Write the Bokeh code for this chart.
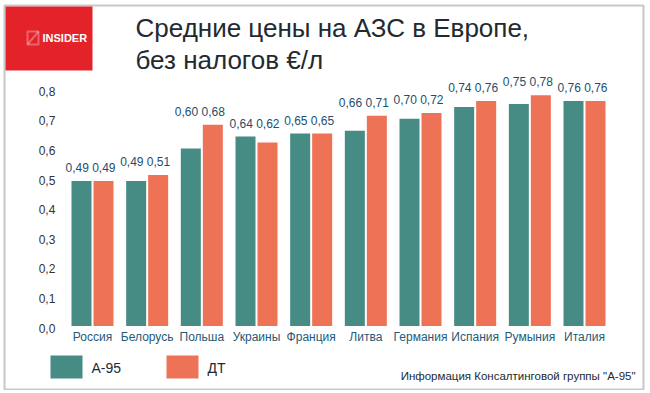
import numpy as np
from bokeh.plotting import figure
from bokeh.models import Range1d, Label, BoxAnnotation, PolyAnnotation, ColumnDataSource
from bokeh.transform import dodge
from bokeh.core.properties import value
from bokeh.embed import file_html
from bokeh.resources import INLINE

# ---- data ----
countries = ["Россия", "Белорусь", "Польша", "Украины", "Франция",
             "Литва", "Германия", "Испания", "Румыния", "Италия"]
a95 = [0.49, 0.49, 0.60, 0.64, 0.65, 0.66, 0.70, 0.74, 0.75, 0.76]
dt = [0.49, 0.51, 0.68, 0.62, 0.65, 0.71, 0.72, 0.76, 0.78, 0.76]
yticks = [0.0, 0.1, 0.2, 0.3, 0.4, 0.5, 0.6, 0.7, 0.8]
series_names = ["А-95", "ДТ"]
title_lines = ["Средние цены на АЗС в Европе,", "без налогов €/л"]
source_note = "Информация Консалтинговой группы \"А-95\""

# ---- style ----
TEAL = "#478b85"
ORANGE = "#ee7256"
RED = "#e3222a"
LABEL_BLUE = "#1f4e6d"
CAT_BLUE = "#255a77"
DARK = "#222a30"
FONT = "Liberation Sans"

W, H = 646, 390


def fmt(v):
    return f"{v:.2f}".replace(".", ",")


p = figure(width=W, height=H, output_backend="svg", toolbar_location=None,
           x_axis_location=None, y_axis_location=None, min_border=0,
           title=None,
           x_range=Range1d(-1.6828, 10.134), y_range=Range1d(-0.2179, 1.0997))
p.xgrid.visible = False
p.ygrid.visible = False
p.outline_line_color = None
p.background_fill_color = "white"
p.border_fill_color = "white"

idx = list(range(len(countries)))
src = ColumnDataSource(dict(
    x=idx, a95=a95, dt=dt, country=countries,
    lab=[fmt(a) + " " + fmt(d) for a, d in zip(a95, dt)],
    top=[max(a, d) for a, d in zip(a95, dt)],
    zero=[0.0] * len(countries),
))

BW = 0.366
OFF = 0.2012
p.vbar(x=dodge("x", -OFF, range=p.x_range), top="a95", width=BW, source=src,
       fill_color=TEAL, line_color=None)
p.vbar(x=dodge("x", OFF, range=p.x_range), top="dt", width=BW, source=src,
       fill_color=ORANGE, line_color=None)

# value labels
p.text(x="x", y="top", text="lab", source=src, x_offset=-2, y_offset=-13,
       text_align="center", text_baseline="middle",
       text_font=value(FONT), text_font_size=value("12px"), text_color=LABEL_BLUE)

# category labels
p.text(x="x", y="zero", text="country", source=src, y_offset=11,
       text_align="center", text_baseline="middle",
       text_font=value(FONT), text_font_size=value("12px"), text_color=CAT_BLUE)

# y tick labels
tsrc = ColumnDataSource(dict(y=yticks, x=[-0.68] * len(yticks),
                             t=[f"{t:.1f}".replace(".", ",") for t in yticks]))
p.text(x="x", y="y", text="t", source=tsrc, y_offset=2,
       text_align="right", text_baseline="middle",
       text_font=value(FONT), text_font_size=value("12px"), text_color="#333333")

# frame border
p.add_layout(BoxAnnotation(left=4, right=643, bottom=1, top=385,
                           left_units="screen", right_units="screen",
                           bottom_units="screen", top_units="screen",
                           fill_alpha=0, line_color="#444444", line_width=2))

# logo block
p.add_layout(BoxAnnotation(left=5, right=92, bottom=320, top=384,
                           left_units="screen", right_units="screen",
                           bottom_units="screen", top_units="screen",
                           fill_color=RED, fill_alpha=1.0, line_color=None))
p.add_layout(PolyAnnotation(xs=[27, 38, 38, 27], ys=[346, 346, 359, 359],
                            xs_units="screen", ys_units="screen",
                            fill_alpha=0, line_color="white", line_width=2))
p.add_layout(PolyAnnotation(xs=[27, 38], ys=[346, 359],
                            xs_units="screen", ys_units="screen",
                            fill_alpha=0, line_color="white", line_width=2))
p.add_layout(Label(x=42, y=353, x_units="screen", y_units="screen", text="INSIDER",
                   text_font=FONT, text_font_size="11px", text_font_style="bold",
                   text_color="white", text_baseline="middle"))

# title
p.add_layout(Label(x=135, y=363, x_units="screen", y_units="screen", text=title_lines[0],
                   text_font=FONT, text_font_size="26px", text_color=DARK,
                   text_baseline="middle"))
p.add_layout(Label(x=135, y=331, x_units="screen", y_units="screen", text=title_lines[1],
                   text_font=FONT, text_font_size="26px", text_color=DARK,
                   text_baseline="middle"))

# legend
for left, col, name in [(50, TEAL, series_names[0]), (166, ORANGE, series_names[1])]:
    p.add_layout(BoxAnnotation(left=left, right=left + 32, bottom=12, top=35,
                               left_units="screen", right_units="screen",
                               bottom_units="screen", top_units="screen",
                               fill_color=col, fill_alpha=1.0, line_color=None))
    p.add_layout(Label(x=left + 41, y=23, x_units="screen", y_units="screen", text=name,
                       text_font=FONT, text_font_size="14px", text_color=DARK,
                       text_baseline="middle"))

# source note
p.add_layout(Label(x=635, y=15, x_units="screen", y_units="screen", text=source_note,
                   text_font=FONT, text_font_size="11.5px", text_color=DARK,
                   text_align="right", text_baseline="middle"))

open("out.html", "w").write(file_html(p, INLINE))
